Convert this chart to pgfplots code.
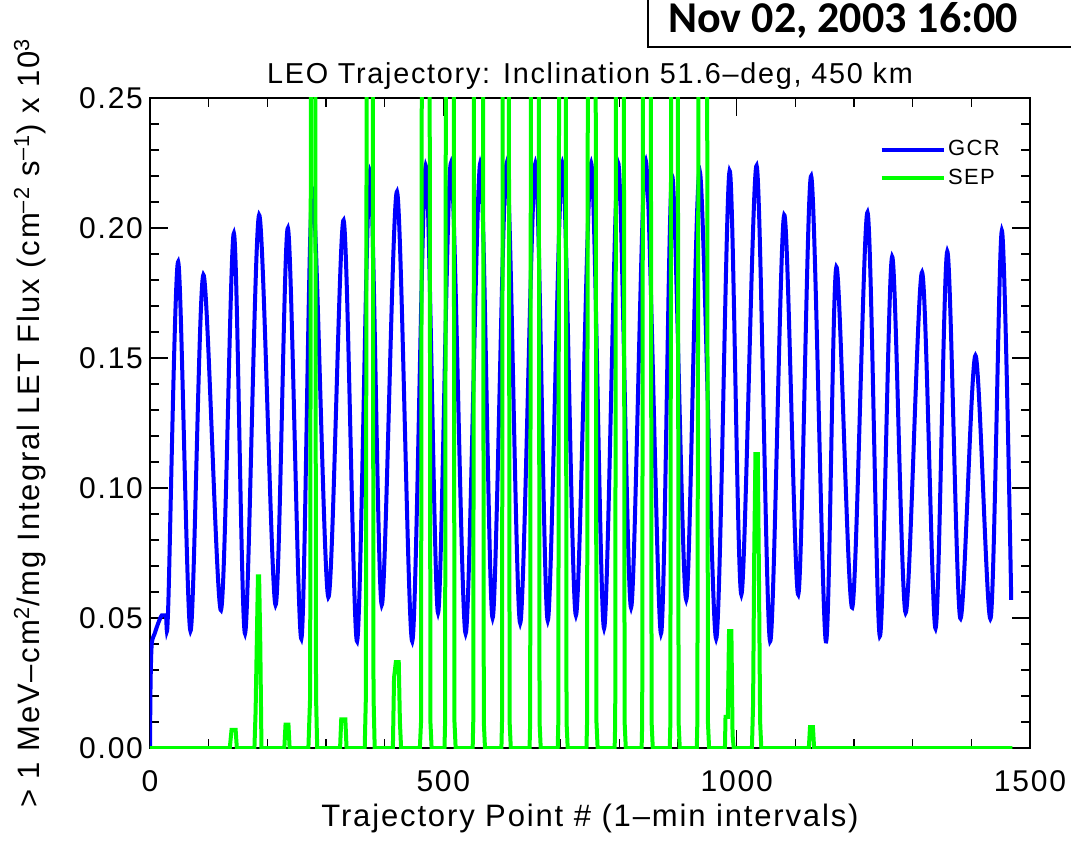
\documentclass[border=0pt]{standalone}
\usepackage{fontspec}
\setmainfont{Liberation Sans}[LetterSpace=6]
\newfontfamily\boxfont{Carlito}
\usepackage{pgfplots}
\pgfplotsset{compat=1.18}

\definecolor{gcr}{RGB}{0,0,255}
\definecolor{sep}{RGB}{0,255,0}

\begin{document}
\begin{tikzpicture}
\useasboundingbox (-75bp,-47.5bp) rectangle (460.5bp,374bp);
\clip (-75bp,-47.5bp) rectangle (460.5bp,374bp);
\begin{axis}[
  scale only axis, width=440bp, height=325bp,
  xmin=0, xmax=1500, ymin=0, ymax=0.25,
  xtick={0,500,1000,1500},
  minor xtick={100,200,300,400,600,700,800,900,1100,1200,1300,1400},
  ytick={0,0.05,0.10,0.15,0.20,0.25},
  minor y tick num=4,
  scaled y ticks=false,
  major tick length=9bp, minor tick length=4.5bp,
  every tick/.style={black, line width=0.7bp},
  axis line style={line width=0.8bp},
  /pgf/number format/assume math mode=true,
  x tick label style={/pgf/number format/1000 sep={}, yshift=-8bp},
  y tick label style={/pgf/number format/fixed, /pgf/number format/fixed zerofill,
    /pgf/number format/precision=2},
  tick label style={font=\fontsize{15bp}{18bp}\selectfont},
  title={LEO Trajectory: Inclination 51.6--deg, 450 km},
  title style={at={(axis description cs:0.5,1.034)}, anchor=center, yshift=-6pt,
    font=\fontsize{14.4bp}{17bp}\selectfont},
  xlabel={Trajectory Point \# (1--min intervals)},
  xlabel style={at={(axis description cs:0.5,-0.108)}, anchor=center,
    font=\fontsize{15.5bp}{18bp}\selectfont},
  ylabel={> 1 MeV--cm\textsuperscript{2}/mg Integral LET Flux (cm\textsuperscript{--2} s\textsuperscript{--1}) x 10\textsuperscript{3}},
  every axis y label/.style={at={(axis description cs:-0.1364,0.5)}, rotate=90, anchor=center,
    font=\fontsize{15.5bp}{18bp}\selectfont},
  legend style={draw=none, fill=none, at={(axis description cs:0.822,0.945)}, anchor=north west,
    font=\fontsize{11bp}{12bp}\selectfont, row sep=2.5bp, nodes={inner sep=1.2bp}},
  legend cell align=left,
  legend image code/.code={\draw[#1] (0bp,0bp) -- (31bp,0bp);},
]
\addplot[gcr, line width=2bp, smooth, tension=0.5] coordinates {
(0,0.000) (1,0.025) (3,0.040) (8,0.044) (14,0.048) (20,0.051) (27,0.051) (31,0.054)
(48,0.187) (69,0.045) (91,0.182) (121,0.053) (143,0.198) (162,0.044) (186,0.205)
(214,0.055) (235,0.200) (258,0.042) (277,0.215) (304,0.058) (330,0.203) (353,0.041)
(375,0.222) (395,0.055) (421,0.214) (447,0.041) (470,0.224) (491,0.052) (513,0.225)
(538,0.044) (563,0.225) (584,0.050) (608,0.225) (631,0.048) (657,0.225) (678,0.049)
(703,0.225) (726,0.051) (752,0.225) (774,0.046) (798,0.225) (820,0.054) (845,0.226)
(871,0.044) (890,0.220) (914,0.057) (937,0.222) (965,0.042) (988,0.222) (1008,0.059)
(1034,0.224) (1057,0.041) (1081,0.205) (1105,0.059) (1127,0.220) (1152,0.041)
(1170,0.185) (1197,0.054) (1223,0.206) (1244,0.043) (1265,0.189) (1288,0.052)
(1316,0.183) (1339,0.046) (1359,0.191) (1381,0.050) (1407,0.151) (1433,0.050)
(1452,0.199) (1468,0.057)
};
\addlegendentry{GCR}
\addplot[sep, line width=2bp] coordinates {
(0,0) (136,0) (139,0.007) (146,0.007) (148,0)
(178,0) (180,0.014) (182,0.040) (184,0.066) (186,0.066) (188,0.040) (190,0)
(229,0) (231,0.009) (236,0.009) (238,0)
(270,0) (273,0.020) (275,0.4) (281,0.4) (283,0.020) (285,0)
(324,0) (326,0.011) (333,0.011) (335,0)
(366,0) (368,0.020) (370,0.4) (379,0.4) (381,0.020) (383,0)
(414,0) (416,0.027) (419,0.033) (424,0.033) (426,0.010) (428,0)
(460,0) (462,0.010) (464,0.4) (476,0.4) (478,0.010) (480,0)
(502,0) (503,0.010) (505,0.4) (517,0.4) (519,0.010) (521,0)
(550,0) (551,0.010) (553,0.4) (567,0.4) (569,0.010) (571,0)
(599,0) (600,0.010) (602,0.4) (611,0.4) (613,0.010) (615,0)
(647,0) (648,0.010) (650,0.4) (662,0.4) (664,0.010) (666,0)
(695,0) (696,0.010) (698,0.4) (708,0.4) (710,0.010) (712,0)
(744,0) (745,0.010) (747,0.4) (759,0.4) (761,0.010) (763,0)
(792,0) (793,0.010) (795,0.4) (807,0.4) (809,0.010) (811,0)
(838,0) (839,0.010) (841,0.4) (853,0.4) (855,0.010) (857,0)
(886,0) (887,0.010) (889,0.4) (899,0.4) (901,0.010) (903,0)
(932,0) (933,0.010) (936,0.4) (949,0.4) (951,0.010) (953,0)
(980,0) (981,0.012) (985,0.012) (987,0.045) (991,0.045) (993,0.005) (995,0)
(1026,0) (1028,0.017) (1030,0.076) (1032,0.113) (1036,0.113) (1038,0.066) (1040,0.010) (1042,0)
(1123,0) (1125,0.008) (1130,0.008) (1132,0)
(1470,0)
};
\addlegendentry{SEP}
\end{axis}
\draw[line width=1bp] (249bp,350.5bp) rectangle (480bp,390bp);
\node[anchor=base west, inner sep=0pt] at (259bp,357.5bp)
  {\boxfont\bfseries\fontsize{22bp}{26bp}\selectfont Nov 02, 2003 16:00};
\end{tikzpicture}
\end{document}
